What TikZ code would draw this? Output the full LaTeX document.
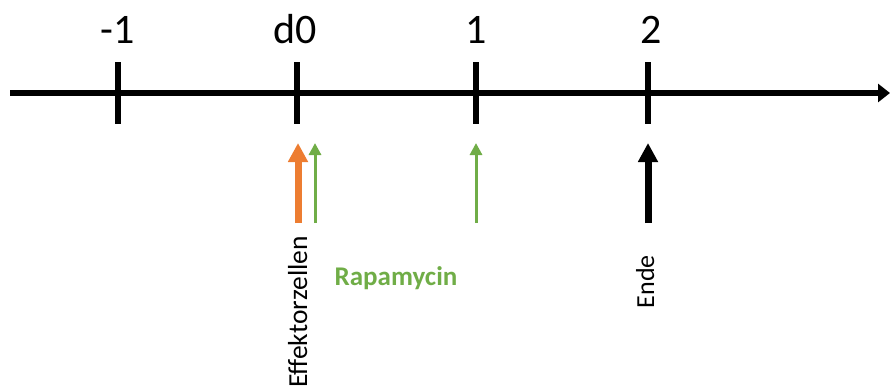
\documentclass[tikz,border=0pt]{standalone}
\usepackage{fontspec}
\setmainfont{Carlito}
\usetikzlibrary{arrows.meta}
\definecolor{orng}{HTML}{ED7D31}
\definecolor{grn}{HTML}{70AD47}
\tikzset{
  axisline/.style={line width=5.5pt},
  tickline/.style={line width=5.5pt},
  ticklabel/.style={font=\fontsize{42}{48}\selectfont, anchor=base, inner sep=0pt},
  bigarrow/.style={line width=7pt, -{Triangle[length=19pt,width=19pt]}},
  thinarrow/.style={grn, line width=3pt, -{Triangle[length=12pt,width=12pt]}},
  rotlabel/.style={rotate=90, anchor=base east, inner sep=0pt},
}
\begin{document}
\begin{tikzpicture}[x=1pt,y=-1pt]
\useasboundingbox (0,0) rectangle (890,389);
% axis
\coordinate (axL) at (10,93);
\coordinate (axR) at (890,93);
\draw[axisline,-{Triangle[length=12pt,width=18pt]}] (axL) -- (axR);
% ticks
\foreach \n/\x/\lx/\t in {m1/118/118/-1, d0/297/295/d0, one/476/476/1, two/648/651/2}{
  \coordinate (\n top) at (\x,62);
  \coordinate (\n bot) at (\x,124);
  \draw[tickline] (\n top) -- (\n bot);
  \node[ticklabel] (\n lab) at (\lx,43) {\t};
}
% arrows
\coordinate (oS) at (298,223); \coordinate (oE) at (298,143);
\draw[bigarrow, orng] (oS) -- (oE);
\coordinate (g1S) at (315,223); \coordinate (g1E) at (315,143);
\draw[thinarrow] (g1S) -- (g1E);
\coordinate (g2S) at (476,223); \coordinate (g2E) at (476,143);
\draw[thinarrow] (g2S) -- (g2E);
\coordinate (bS) at (648,223); \coordinate (bE) at (648,143);
\draw[bigarrow, black] (bS) -- (bE);
% labels
\node[rotlabel, font=\fontsize{27.5}{32}\selectfont] (eff) at (307,236) {Effektorzellen};
\node[font=\fontsize{27}{32}\selectfont\bfseries, text=grn, inner sep=0pt, anchor=base] (rapa) at (396,285) {Rapamycin};
\node[rotlabel, font=\fontsize{26}{30}\selectfont] (ende) at (654,255) {Ende};
\end{tikzpicture}
\end{document}
